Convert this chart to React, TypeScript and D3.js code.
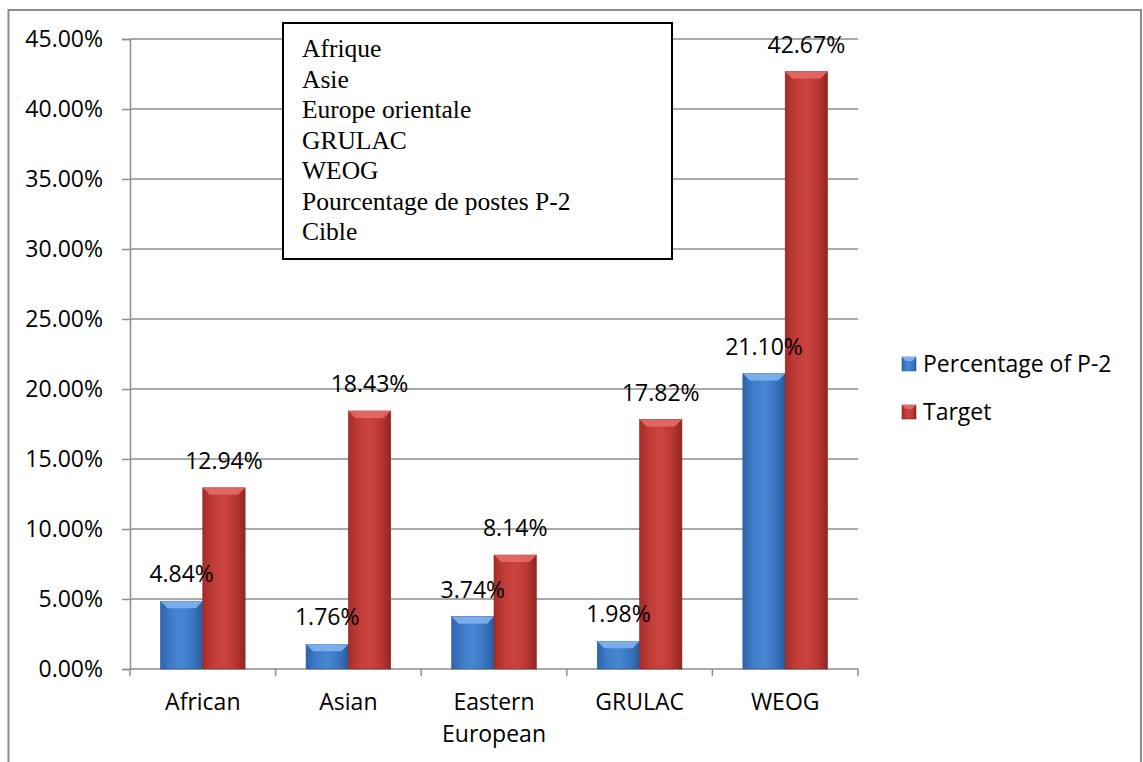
import * as d3 from 'd3';
import React, { useEffect, useRef } from 'react';

const categories = ['African', 'Asian', 'Eastern European', 'GRULAC', 'WEOG'];
const percentageP2 = [4.84, 1.76, 3.74, 1.98, 21.1];
const target = [12.94, 18.43, 8.14, 17.82, 42.67];
const seriesNames = ['Percentage of P-2', 'Target'];
const yTicks = [0, 5, 10, 15, 20, 25, 30, 35, 40, 45];
const frenchLegend = [
  'Afrique',
  'Asie',
  'Europe orientale',
  'GRULAC',
  'WEOG',
  'Pourcentage de postes P-2',
  'Cible',
];

const W = 1143;
const H = 762;
const FONT = '"Open Sans", "Noto Sans", sans-serif';

const App: React.FC = () => {
  const svgRef = useRef<SVGSVGElement | null>(null);

  useEffect(() => {
    if (!svgRef.current) return;
    const svg = d3.select(svgRef.current);
    svg.selectAll('*').remove();

    const left = 130;
    const right = 858;
    const top = 39;
    const bottom = 669;

    const x = d3.scaleBand().domain(categories).range([left, right]);
    const xs = d3
      .scaleBand()
      .domain(seriesNames)
      .range([0, x.bandwidth()])
      .paddingOuter(0.72)
      .paddingInner(0);
    const y = d3.scaleLinear().domain([0, 45]).range([bottom, top]);

    // gradients
    const defs = svg.append('defs');
    const grads: { id: string; stops: string[] }[] = [
      { id: 'gBlue', stops: ['#2d63ad', '#3f7cc9', '#4886d3', '#3b76c2', '#2a5c9f'] },
      { id: 'gRed', stops: ['#a52d2a', '#c23c38', '#cc4441', '#bb3935', '#932523'] },
    ];
    grads.forEach((g) => {
      const lg = defs
        .append('linearGradient')
        .attr('id', g.id)
        .attr('x1', '0%')
        .attr('x2', '100%')
        .attr('y1', '0%')
        .attr('y2', '0%');
      g.stops.forEach((c, i) => {
        lg.append('stop')
          .attr('offset', `${(i / (g.stops.length - 1)) * 100}%`)
          .attr('stop-color', c);
      });
    });

    // outer frame
    svg
      .append('rect')
      .attr('x', 8.5)
      .attr('y', 10)
      .attr('width', 1132.5)
      .attr('height', 780)
      .attr('fill', 'white')
      .attr('stroke', '#8c8c8c')
      .attr('stroke-width', 2);

    // gridlines
    svg
      .append('g')
      .selectAll('line')
      .data(yTicks.slice(1))
      .enter()
      .append('line')
      .attr('x1', left)
      .attr('x2', right)
      .attr('y1', (d) => y(d))
      .attr('y2', (d) => y(d))
      .attr('stroke', '#8c8c8c')
      .attr('stroke-width', 1.5);

    // y axis
    const yAxis = svg
      .append('g')
      .attr('transform', `translate(${left},0)`)
      .call(
        d3
          .axisLeft(y)
          .tickValues(yTicks)
          .tickSize(8)
          .tickPadding(19)
          .tickFormat((d) => `${(+d).toFixed(2)}%`),
      );
    yAxis.selectAll('.domain, .tick line').attr('stroke', '#8c8c8c').attr('stroke-width', 1.5);
    yAxis
      .selectAll('text')
      .style('font-family', FONT)
      .style('font-size', '23px')
      .attr('fill', '#000');

    // x axis
    const xAxis = svg.append('g').attr('transform', `translate(0,${bottom})`);
    xAxis
      .append('line')
      .attr('x1', left)
      .attr('x2', right)
      .attr('stroke', '#8c8c8c')
      .attr('stroke-width', 1.5);
    const bounds = categories.map((c) => x(c)!).concat([right]);
    xAxis
      .selectAll('line.tk')
      .data(bounds)
      .enter()
      .append('line')
      .attr('class', 'tk')
      .attr('x1', (d) => d)
      .attr('x2', (d) => d)
      .attr('y1', 0)
      .attr('y2', 7)
      .attr('stroke', '#8c8c8c')
      .attr('stroke-width', 1.5);
    const words = (c: string) => (c === 'Eastern European' ? ['Eastern', 'European'] : [c]);
    categories.forEach((c) => {
      const t = xAxis
        .append('text')
        .attr('x', x(c)! + x.bandwidth() / 2)
        .attr('y', 41)
        .attr('text-anchor', 'middle')
        .style('font-family', FONT)
        .style('font-size', '23px')
        .attr('fill', '#000');
      words(c).forEach((w, i) => {
        t.append('tspan')
          .attr('x', x(c)! + x.bandwidth() / 2)
          .attr('dy', i === 0 ? 0 : 32)
          .text(w);
      });
    });

    // bars
    const series = [
      { name: seriesNames[0], values: percentageP2, fill: 'url(#gBlue)', bevel: '#7fb2ee', dark: '#2a5a9c' },
      { name: seriesNames[1], values: target, fill: 'url(#gRed)', bevel: '#e46a66', dark: '#8e2422' },
    ];
    const bw = xs.bandwidth();
    const bevel = 7;
    series.forEach((s) => {
      const g = svg.append('g');
      const data = categories.map((c, i) => ({ c, v: s.values[i] }));
      g.selectAll('rect')
        .data(data)
        .enter()
        .append('rect')
        .attr('x', (d) => x(d.c)! + xs(s.name)!)
        .attr('y', (d) => y(d.v))
        .attr('width', bw)
        .attr('height', (d) => bottom - y(d.v))
        .attr('fill', s.fill)
        .attr('stroke', s.dark)
        .attr('stroke-width', 0.6);
      g.selectAll('polygon')
        .data(data)
        .enter()
        .append('polygon')
        .attr('points', (d) => {
          const x0 = x(d.c)! + xs(s.name)!;
          const x1 = x0 + bw;
          const y0 = y(d.v);
          const b = Math.min(bevel, (bottom - y0) / 2);
          return `${x0},${y0} ${x1},${y0} ${x1 - b},${y0 + b} ${x0 + b},${y0 + b}`;
        })
        .attr('fill', s.bevel)
        .attr('opacity', 0.9);
    });

    // data labels
    series.forEach((s) => {
      svg
        .append('g')
        .selectAll('text')
        .data(categories.map((c, i) => ({ c, v: s.values[i] })))
        .enter()
        .append('text')
        .attr('x', (d) => x(d.c)! + xs(s.name)! + bw / 2)
        .attr('y', (d) => y(d.v) - 19)
        .attr('text-anchor', 'middle')
        .style('font-family', FONT)
        .style('font-size', '23px')
        .attr('fill', '#000')
        .text((d) => `${d.v.toFixed(2)}%`);
    });

    // legend
    const legend = svg.append('g').attr('transform', 'translate(902,357)');
    series.forEach((s, i) => {
      const row = legend.append('g').attr('transform', `translate(0,${i * 48})`);
      row
        .append('rect')
        .attr('width', 14)
        .attr('height', 14)
        .attr('fill', s.fill)
        .attr('stroke', s.dark)
        .attr('stroke-width', 0.6);
      row
        .append('polygon')
        .attr('points', '0,0 14,0 10,4 4,4')
        .attr('fill', s.bevel);
      row
        .append('text')
        .attr('x', 21)
        .attr('y', 15)
        .style('font-family', FONT)
        .style('font-size', '23px')
        .attr('fill', '#000')
        .text(s.name);
    });

    // french text box
    const box = svg.append('g');
    box
      .append('rect')
      .attr('x', 283)
      .attr('y', 23)
      .attr('width', 389)
      .attr('height', 236)
      .attr('fill', 'white')
      .attr('stroke', '#000')
      .attr('stroke-width', 2);
    box
      .selectAll('text')
      .data(frenchLegend)
      .enter()
      .append('text')
      .attr('x', 302)
      .attr('y', (d, i) => 57 + i * 30.5)
      .style('font-family', '"Liberation Serif", "Times New Roman", serif')
      .style('font-size', '25.5px')
      .attr('fill', '#000')
      .text((d) => d);
  }, []);

  return (
    <div style={{ position: 'absolute', left: 0, top: 0, width: W, height: H, overflow: 'hidden' }}>
      <svg ref={svgRef} width={W} height={H} role="img" aria-label="Bar chart"></svg>
    </div>
  );
};

export default App;
